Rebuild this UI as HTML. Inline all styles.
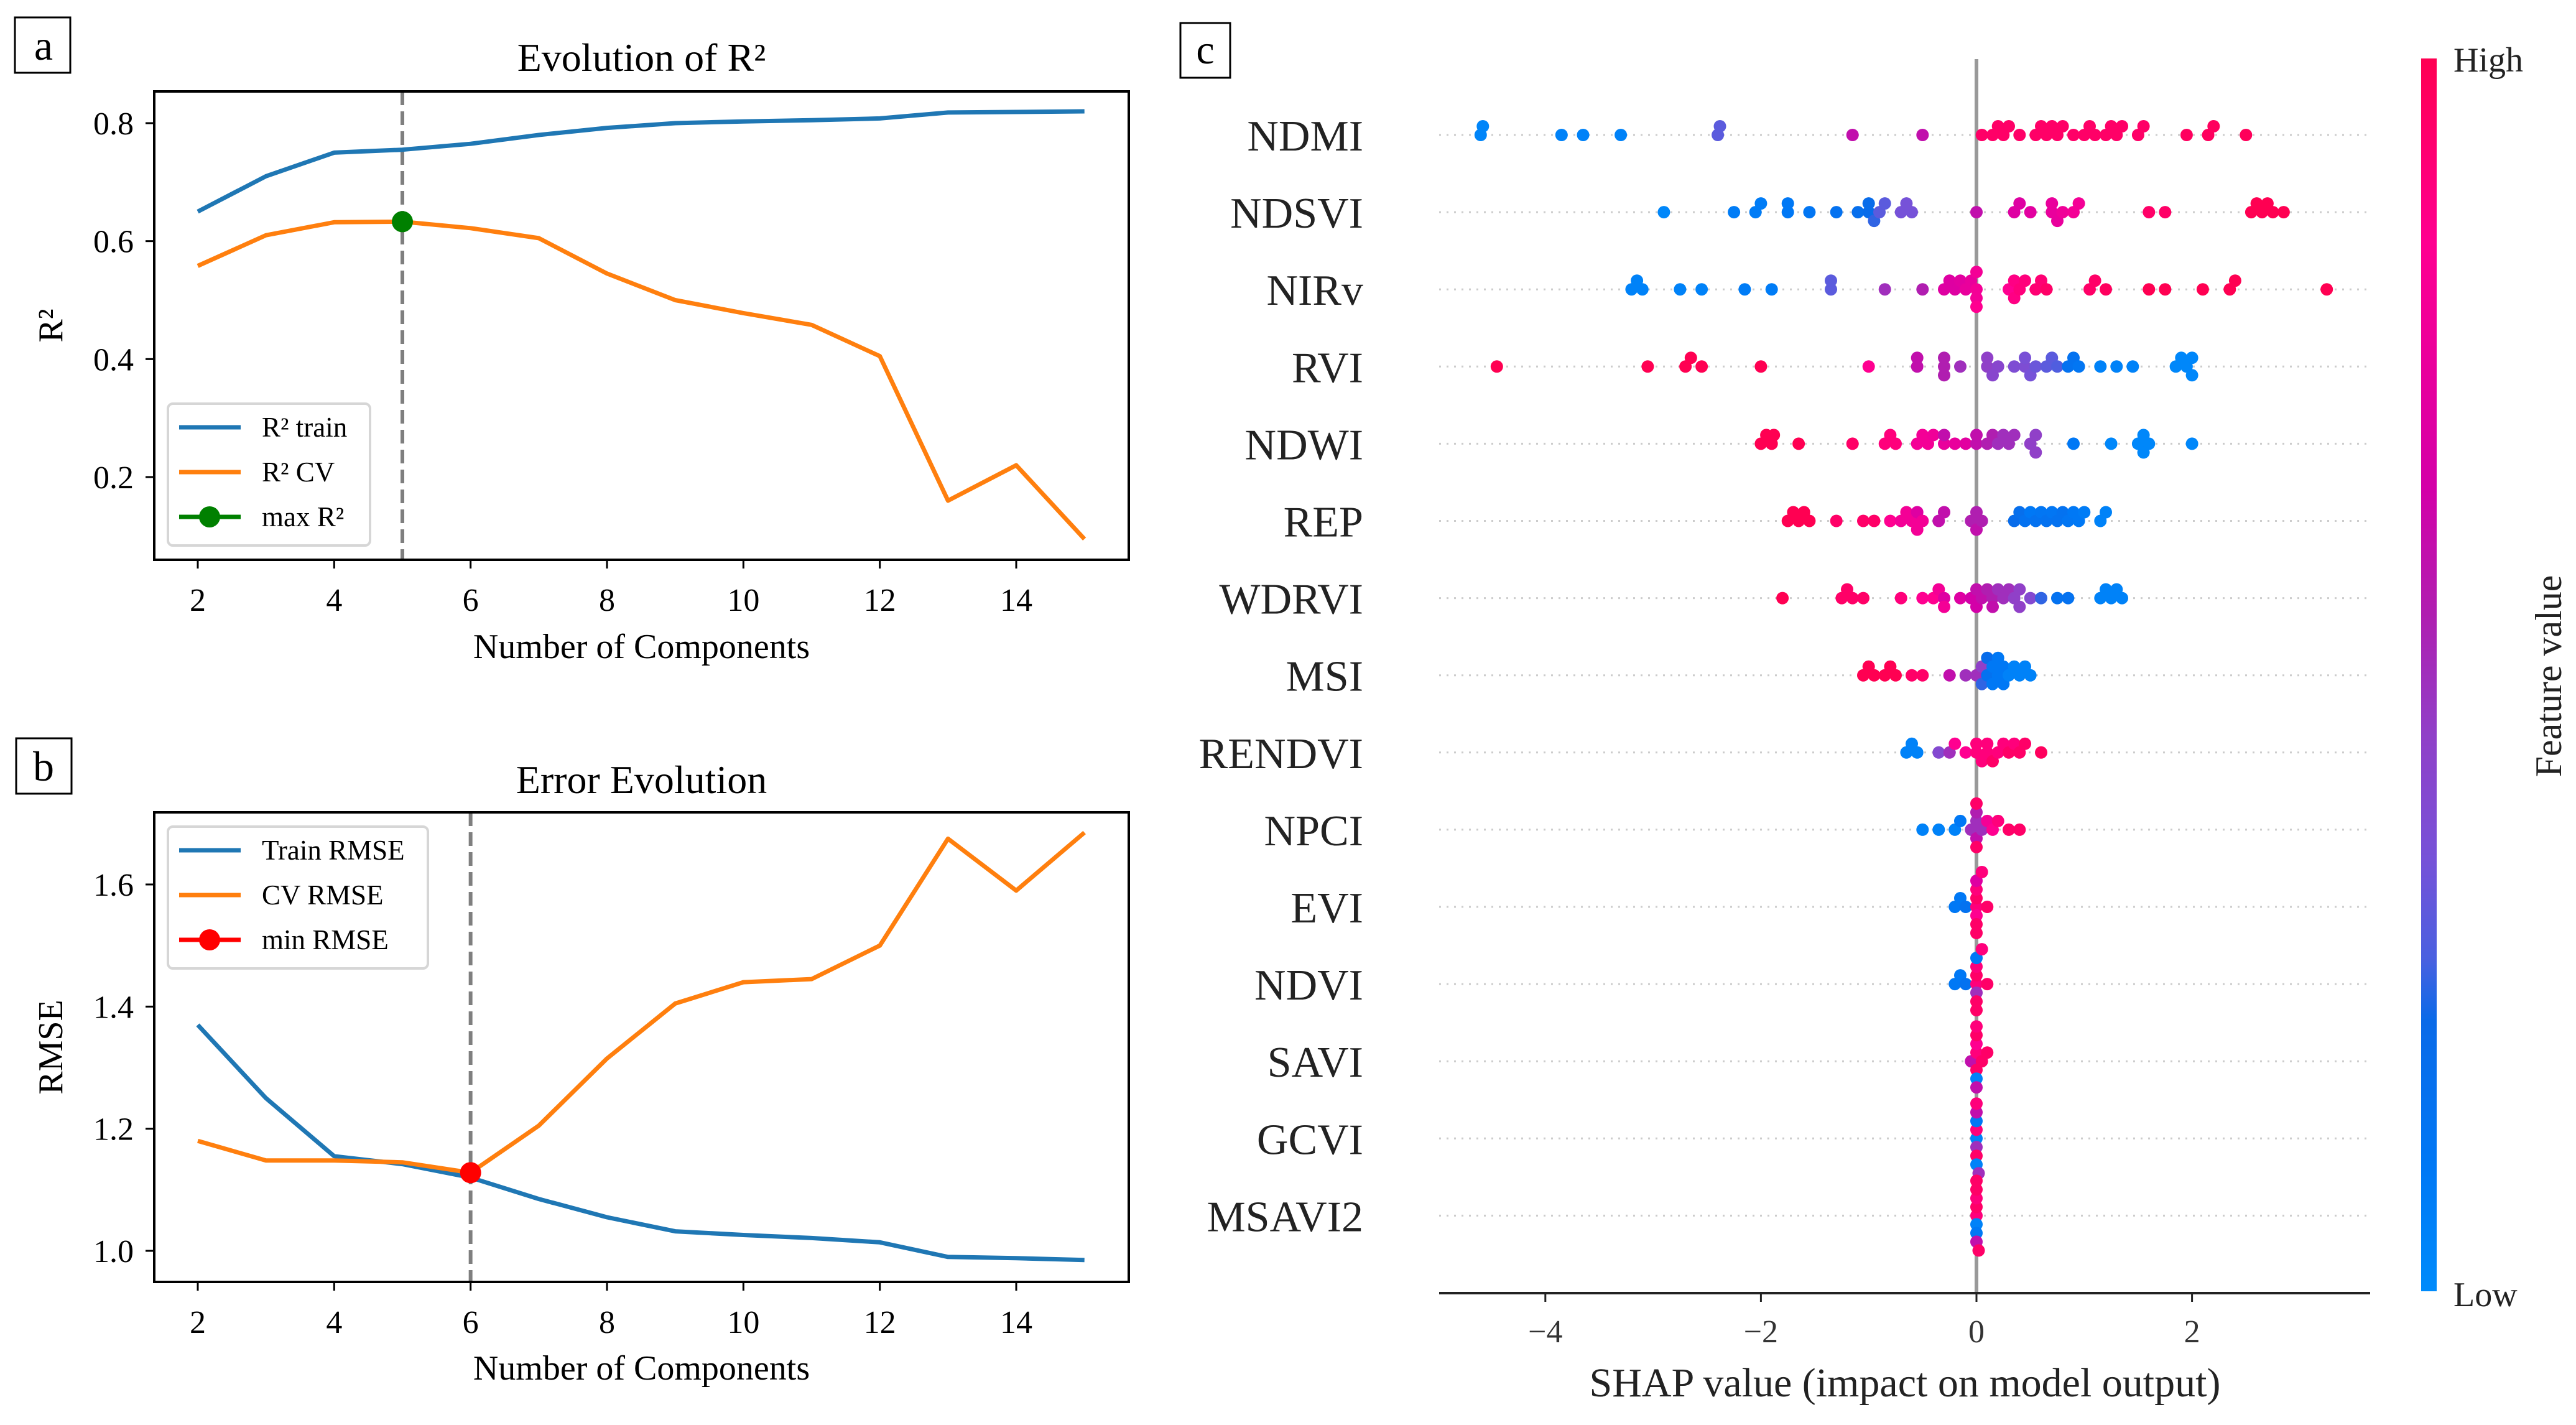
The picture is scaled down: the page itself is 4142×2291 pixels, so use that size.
<!DOCTYPE html>
<html><head><meta charset="utf-8">
<style>
html,body{margin:0;padding:0;background:#fff;}
svg{display:block;font-family:"Liberation Serif",serif;}
</style></head>
<body>
<svg id="fig" width="4142" height="2291" viewBox="0 0 4142 2291" xmlns="http://www.w3.org/2000/svg">
<defs>
<linearGradient id="cbgrad" x1="0" y1="1" x2="0" y2="0">
<stop offset="0" stop-color="#008bfb"/>
<stop offset="0.1" stop-color="#0078f5"/>
<stop offset="0.22" stop-color="#0a6ae8"/>
<stop offset="0.27" stop-color="#4a60e0"/>
<stop offset="0.35" stop-color="#7652d8"/>
<stop offset="0.45" stop-color="#9040c8"/>
<stop offset="0.55" stop-color="#b01eb0"/>
<stop offset="0.65" stop-color="#d300a8"/>
<stop offset="0.85" stop-color="#ff0090"/>
<stop offset="1" stop-color="#ff0052"/>
</linearGradient>
</defs>
</svg>
<script>
// ---- Panel a data ----
const compsA = [2,3,4,5,6,7,8,9,10,11,12,13,14,15];
const r2Train = [0.65,0.71,0.75,0.755,0.765,0.78,0.792,0.80,0.803,0.805,0.808,0.818,0.819,0.82];
const r2CV = [0.558,0.61,0.632,0.633,0.622,0.605,0.545,0.50,0.478,0.458,0.405,0.16,0.22,0.095];
const r2Ticks = [0.2,0.4,0.6,0.8];
const xTicks = [2,4,6,8,10,12,14];
const bestA = 5;
// ---- Panel b data ----
const rmseTrain = [1.37,1.25,1.155,1.142,1.12,1.085,1.055,1.032,1.026,1.021,1.014,0.99,0.988,0.985];
const rmseCV = [1.18,1.148,1.148,1.145,1.128,1.205,1.315,1.405,1.44,1.445,1.5,1.675,1.59,1.685];
const rmseTicks = [1.0,1.2,1.4,1.6];
const bestB = 6;
// ---- Panel c data ----
const features = ["NDMI","NDSVI","NIRv","RVI","NDWI","REP","WDRVI","MSI","RENDVI","NPCI","EVI","NDVI","SAVI","GCVI","MSAVI2"];
const shapTicks = [-4,-2,0,2];
// each entry: [shap value, normalized feature value]
const shapNDMI = [[-4.6,0.03],[-4.58,0.03],[-3.85,0.05],[-3.65,0.05],[-3.3,0.05],[-2.4,0.3],[-2.38,0.3],[-1.15,0.6],[-0.5,0.6],[0.05,0.95],[0.15,0.95],[0.2,0.95],[0.25,0.95],[0.3,0.95],[0.4,0.95],[0.55,0.95],[0.6,0.95],[0.65,0.95],[0.7,0.95],[0.75,0.95],[0.8,0.95],[0.9,0.95],[1.0,0.95],[1.05,0.95],[1.1,0.95],[1.2,0.95],[1.25,0.95],[1.3,0.95],[1.35,0.95],[1.5,0.95],[1.55,0.95],[1.95,0.97],[2.15,0.97],[2.2,0.97],[2.5,0.98]];
const shapNDSVI = [[-2.9,0.02],[-2.25,0.08],[-2.05,0.08],[-2.0,0.08],[-1.75,0.1],[-1.75,0.1],[-1.55,0.12],[-1.3,0.15],[-1.1,0.18],[-1.0,0.2],[-1.0,0.2],[-0.95,0.25],[-0.9,0.3],[-0.85,0.3],[-0.7,0.35],[-0.65,0.35],[-0.6,0.35],[0.0,0.6],[0.35,0.7],[0.4,0.7],[0.5,0.72],[0.7,0.75],[0.7,0.75],[0.75,0.75],[0.8,0.78],[0.9,0.8],[0.95,0.8],[1.6,0.95],[1.75,0.95],[2.55,1],[2.6,1],[2.65,1],[2.7,1],[2.75,1],[2.85,1]];
const shapNIRv = [[-3.2,0.05],[-3.15,0.05],[-3.1,0.05],[-2.75,0.05],[-2.55,0.05],[-2.15,0.08],[-1.9,0.08],[-1.35,0.3],[-1.35,0.3],[-0.85,0.5],[-0.5,0.55],[-0.3,0.7],[-0.25,0.7],[-0.2,0.7],[-0.15,0.72],[-0.1,0.75],[-0.05,0.75],[0,0.8],[0,0.8],[0,0.8],[0,0.85],[0.3,0.85],[0.35,0.88],[0.35,0.88],[0.4,0.9],[0.45,0.9],[0.55,0.92],[0.6,0.92],[0.65,0.95],[1.05,0.95],[1.1,0.95],[1.2,0.97],[1.6,1],[1.75,1],[2.1,1],[2.35,1],[2.4,1],[3.25,1]];
const shapRVI = [[-4.45,1],[-3.05,1],[-2.7,1],[-2.65,1],[-2.55,1],[-2.0,1],[-1.0,0.85],[-0.55,0.6],[-0.55,0.6],[-0.3,0.55],[-0.3,0.55],[-0.3,0.55],[-0.15,0.5],[0.1,0.45],[0.1,0.45],[0.15,0.42],[0.2,0.42],[0.35,0.38],[0.45,0.38],[0.45,0.36],[0.5,0.35],[0.55,0.33],[0.65,0.3],[0.7,0.3],[0.75,0.28],[0.85,0.15],[0.9,0.15],[0.95,0.12],[1.15,0.05],[1.3,0.05],[1.45,0.05],[1.85,0.02],[1.9,0.02],[1.95,0.02],[2.0,0.02],[2.0,0.02]];
const shapNDWI = [[-2.0,1],[-1.95,1],[-1.9,1],[-1.88,1],[-1.65,1],[-1.15,0.95],[-0.85,0.9],[-0.8,0.9],[-0.75,0.9],[-0.55,0.8],[-0.5,0.8],[-0.45,0.8],[-0.4,0.78],[-0.3,0.75],[-0.3,0.6],[-0.2,0.75],[-0.1,0.72],[0,0.6],[0,0.6],[0.1,0.55],[0.15,0.55],[0.2,0.5],[0.25,0.5],[0.3,0.5],[0.35,0.5],[0.5,0.45],[0.55,0.45],[0.55,0.45],[0.9,0.1],[1.25,0.02],[1.5,0.02],[1.55,0.02],[1.55,0.02],[1.6,0.02],[2.0,0.02]];
const shapREP = [[-1.75,1],[-1.7,1],[-1.65,1],[-1.6,1],[-1.55,1],[-1.3,0.95],[-1.05,0.95],[-0.95,0.95],[-0.8,0.85],[-0.7,0.8],[-0.65,0.8],[-0.6,0.8],[-0.55,0.7],[-0.55,0.8],[-0.5,0.8],[-0.35,0.6],[-0.3,0.6],[-0.05,0.55],[0,0.55],[0,0.6],[0.05,0.55],[0.35,0.2],[0.4,0.18],[0.45,0.15],[0.5,0.1],[0.55,0.15],[0.6,0.12],[0.65,0.15],[0.7,0.12],[0.75,0.15],[0.8,0.15],[0.85,0.12],[0.9,0.1],[0.95,0.1],[1.0,0.08],[1.15,0.05],[1.2,0.05]];
const shapWDRVI = [[-1.8,1],[-1.25,0.95],[-1.2,0.95],[-1.15,0.95],[-1.05,0.95],[-0.7,0.9],[-0.5,0.85],[-0.4,0.85],[-0.35,0.8],[-0.3,0.7],[-0.3,0.8],[-0.15,0.7],[-0.05,0.65],[0,0.6],[0,0.65],[0.05,0.6],[0.1,0.55],[0.15,0.55],[0.15,0.6],[0.2,0.5],[0.25,0.5],[0.3,0.5],[0.35,0.45],[0.4,0.45],[0.4,0.45],[0.5,0.4],[0.6,0.25],[0.75,0.15],[0.85,0.15],[1.15,0.05],[1.2,0.05],[1.25,0.05],[1.3,0.05],[1.35,0.05]];
const shapMSI = [[-1.05,1],[-1.0,1],[-0.95,1],[-0.85,1],[-0.8,1],[-0.75,1],[-0.6,0.95],[-0.5,0.95],[-0.25,0.6],[-0.1,0.5],[0,0.5],[0.05,0.45],[0.05,0.25],[0.1,0.15],[0.1,0.2],[0.15,0.1],[0.15,0.1],[0.2,0.1],[0.2,0.1],[0.25,0.1],[0.25,0.1],[0.3,0.05],[0.35,0.05],[0.4,0.05],[0.45,0.05],[0.5,0.05]];
const shapRENDVI = [[-0.65,0.05],[-0.6,0.05],[-0.55,0.05],[-0.35,0.4],[-0.25,0.5],[-0.2,0.85],[-0.1,0.85],[0,0.9],[0,0.9],[0.05,0.9],[0.1,0.9],[0.1,0.9],[0.15,0.95],[0.2,0.9],[0.25,0.9],[0.3,0.95],[0.35,0.9],[0.4,0.95],[0.45,0.95],[0.6,0.97]];
const shapNPCI = [[-0.5,0.05],[-0.35,0.05],[-0.2,0.05],[-0.15,0.1],[-0.05,0.5],[0,0.5],[0,0.6],[0,0.55],[0,0.95],[0,0.95],[0.05,0.5],[0.1,0.8],[0.15,0.85],[0.2,0.9],[0.3,0.95],[0.4,0.95]];
const shapEVI = [[-0.2,0.1],[-0.15,0.1],[-0.1,0.15],[0,0.9],[0,0.95],[0,0.85],[0,0.9],[0,0.95],[0,0.7],[0,0.95],[0.05,0.9],[0.1,0.95]];
const shapNDVI = [[-0.2,0.1],[-0.15,0.1],[-0.1,0.15],[0,0.9],[0,0.95],[0,0.5],[0,0.9],[0,0.95],[0,0.1],[0,0.95],[0.05,0.9],[0.1,0.95]];
const shapSAVI = [[-0.05,0.6],[0,0.9],[0,0.95],[0,0.85],[0,0.05],[0,0.95],[0,0.6],[0,0.9],[0.05,0.95],[0.1,0.95]];
const shapGCVI = [[0,0.05],[0,0.9],[0,0.5],[0,0.1],[0,0.95],[0,0.6],[0,0.05],[0,0.9],[0.02,0.5]];
const shapMSAVI2 = [[0,0.9],[0,0.95],[0,0.05],[0,0.9],[0,0.1],[0,0.95],[0,0.6],[0,0.95],[0.02,0.95]];
const shapRows = [shapNDMI,shapNDSVI,shapNIRv,shapRVI,shapNDWI,shapREP,shapWDRVI,shapMSI,shapRENDVI,shapNPCI,shapEVI,shapNDVI,shapSAVI,shapGCVI,shapMSAVI2];

const NS = "http://www.w3.org/2000/svg";
const svg = document.getElementById('fig');
function mk(tag, attrs, parent, text){
  const e = document.createElementNS(NS, tag);
  for (const k in attrs) e.setAttribute(k, attrs[k]);
  if (text !== undefined) e.textContent = text;
  (parent||svg).appendChild(e);
  return e;
}

function linePanel(cfg){
  const g = mk('g', {});
  
  
  const L=248, R=1815, T=cfg.top, B=cfg.bottom;
  const xs = v => 318 + (v-2)*(1634-318)/12;
  const ys = v => cfg.y0px + (v-cfg.y0)*cfg.scale;
  const lb = mk('rect', {x:cfg.boxY>100?26:24, y:cfg.boxY, width:89, height:89, fill:'none', stroke:'#000', 'stroke-width':3}, g);
  
  
  const lt = mk('text', {x:70, y:cfg.boxY+68, 'font-size':68, 'text-anchor':'middle'}, g, cfg.letter);
  
  
  const tt = mk('text', {x:(L+R)/2, y:cfg.titleY, 'font-size':64, 'text-anchor':'middle'}, g, cfg.title);
  
  
  xTicks.forEach(t=>{
    const x = xs(t);
    mk('line', {x1:x, x2:x, y1:B, y2:B+14, stroke:'#000', 'stroke-width':3}, g);
    const tl = mk('text', {x:x, y:B+82, 'font-size':52, 'text-anchor':'middle'}, g, String(t));
    
    
  });
  cfg.yTicks.forEach(t=>{
    const y = ys(t);
    mk('line', {x1:L-14, x2:L, y1:y, y2:y, stroke:'#000', 'stroke-width':3}, g);
    const tl = mk('text', {x:215, y:y+18, 'font-size':52, 'text-anchor':'end'}, g, t.toFixed(1));
    
    
  });
  const xl = mk('text', {x:(L+R)/2, y:cfg.xlabelY, 'font-size':56, 'text-anchor':'middle'}, g, 'Number of Components');
  
  
  const yl = mk('text', {x:0, y:0, 'font-size':56, 'text-anchor':'middle', transform:`translate(100,${(T+B)/2}) rotate(-90)`}, g, cfg.ylabel);
  
  
  const cid = 'clip'+cfg.letter;
  const cp = mk('clipPath', {id:cid}, g);
  mk('rect', {x:L, y:T, width:R-L, height:B-T}, cp);
  const pg = mk('g', {'clip-path':`url(#${cid})`}, g);
  const vx = xs(cfg.best);
  const vl = mk('line', {x1:vx, x2:vx, y1:T, y2:B, stroke:'#7f7f7f', 'stroke-width':6, 'stroke-dasharray':'22,10'}, pg);
  
  
  const mkPath = (vals, color, name) => {
    const d = vals.map((v,i)=>(i?'L':'M')+xs(compsA[i]).toFixed(1)+','+ys(v).toFixed(1)).join(' ');
    const p = mk('path', {d:d, fill:'none', stroke:color, 'stroke-width':7, 'stroke-linejoin':'round'}, pg);
    
    
  };
  mkPath(cfg.train, '#1f77b4', 'train-line');
  mkPath(cfg.cv, '#ff7f0e', 'cv-line');
  const bi = compsA.indexOf(cfg.best);
  const mkr = mk('ellipse', {cx:vx, cy:ys(cfg.cv[bi]), rx:17, ry:17, fill:cfg.markColor}, g);
  
  
  mk('rect', {x:L, y:T, width:R-L, height:B-T, fill:'none', stroke:'#000', 'stroke-width':4}, g);
  const lg = mk('g', {}, g);
  
  
  const lgb = cfg.legend;
  mk('rect', {x:270, y:lgb.y, width:lgb.w, height:lgb.h, rx:8, fill:'#fff', 'fill-opacity':0.8, stroke:'#d6d6d6', 'stroke-width':4}, lg);
  lgb.items.forEach((it,i)=>{
    const y = lgb.y + 38 + i*72;
    mk('line', {x1:288, x2:387, y1:y, y2:y, stroke:it.c, 'stroke-width':7}, lg);
    if (it.m) mk('ellipse', {cx:337, cy:y, rx:17, ry:17, fill:it.c}, lg);
    const et = mk('text', {x:421, y:y+15, 'font-size':45}, lg, it.t);
    
    
  });
}

linePanel({name:'panel-a-r2-chart', letter:'a', boxY:28, title:'Evolution of R²', titleY:114, top:147, bottom:900, y0:0.8, y0px:198, scale:-948.3, yTicks:r2Ticks, train:r2Train, cv:r2CV, best:bestA, markColor:'#008000', ylabel:'R²', xlabelY:1058,
  legend:{y:649, w:325, h:228, items:[{c:'#1f77b4',t:'R² train'},{c:'#ff7f0e',t:'R² CV'},{c:'#008000',t:'max R²',m:true}]}});
linePanel({name:'panel-b-rmse-chart', letter:'b', boxY:1187, title:'Error Evolution', titleY:1275, top:1306, bottom:2061, y0:1.0, y0px:2011, scale:-981.7, yTicks:rmseTicks, train:rmseTrain, cv:rmseCV, best:bestB, markColor:'#ff0000', ylabel:'RMSE', xlabelY:2218,
  legend:{y:1329, w:418, h:228, items:[{c:'#1f77b4',t:'Train RMSE'},{c:'#ff7f0e',t:'CV RMSE'},{c:'#ff0000',t:'min RMSE',m:true}]}});

// ---- Panel c ----
(function(){
  const g = mk('g', {});
  
  
  const xs = v => 3178 + v*173.3;
  const rowY = i => 217 + i*124.1;
  const lb = mk('rect', {x:1898, y:37, width:80, height:88, fill:'none', stroke:'#000', 'stroke-width':3}, g);
  
  
  const lt = mk('text', {x:1938, y:102, 'font-size':66, 'text-anchor':'middle'}, g, 'c');
  
  
  features.forEach((f,i)=>{
    const y = rowY(i);
    mk('line', {x1:2314, x2:3811, y1:y, y2:y, stroke:'#cccccc', 'stroke-width':3, 'stroke-dasharray':'3,9'}, g);
    const t = mk('text', {x:2192, y:y+25, 'font-size':70, 'text-anchor':'end', fill:'#222'}, g, f);
    
    
  });
  const zl = mk('line', {x1:xs(0), x2:xs(0), y1:95, y2:2079, stroke:'#999', 'stroke-width':6}, g);
  
  
  const stops = [[0,[0,139,251]],[0.1,[0,120,245]],[0.22,[10,106,232]],[0.27,[74,96,224]],[0.35,[118,82,216]],[0.45,[144,64,200]],[0.55,[176,30,176]],[0.65,[211,0,168]],[0.85,[255,0,144]],[1,[255,0,82]]];
  const col = v => { for(let k=1;k<stops.length;k++){ if(v<=stops[k][0]){ const a=stops[k-1],b=stops[k]; const t=(v-a[0])/(b[0]-a[0]); return 'rgb('+a[1].map((c,j)=>Math.round(c+(b[1][j]-c)*t)).join(',')+')'; } } return 'rgb(255,0,82)'; };
  const r = 10, dy = 14;
  shapRows.forEach((row,i)=>{
    const y0 = rowY(i);
    const placed = [];
    const sorted = row.map(p=>p).sort((a,b)=>a[0]-b[0]);
    sorted.forEach(p=>{
      const x = xs(p[0]);
      let off = 0;
      for (let k=0;k<40;k++){
        off = (k===0)?0:((k%2)?-1:1)*Math.ceil(k/2)*dy;
        if (!placed.some(q=>Math.abs(q[0]-x)<r+1 && Math.abs(q[1]-off)<dy-1)) break;
      }
      placed.push([x,off]);
      const c = mk('circle', {cx:x.toFixed(1), cy:(y0+off).toFixed(1), r:r, fill:col(p[1])}, g);
      
      
    });
  });
  mk('line', {x1:2314, x2:3811, y1:2079, y2:2079, stroke:'#222', 'stroke-width':4}, g);
  shapTicks.forEach(t=>{
    const x = xs(t);
    mk('line', {x1:x, x2:x, y1:2079, y2:2093, stroke:'#222', 'stroke-width':3}, g);
    const tl = mk('text', {x:x, y:2158, 'font-size':52, 'text-anchor':'middle', fill:'#333'}, g, t<0?'\u2212'+Math.abs(t):String(t));
    
    
  });
  const xl = mk('text', {x:3063, y:2245, 'font-size':66, 'text-anchor':'middle', fill:'#222'}, g, 'SHAP value (impact on model output)');
  
  
  const cb = mk('rect', {x:3893, y:94, width:25, height:1982, fill:'url(#cbgrad)'}, g);
  
  
  const hi = mk('text', {x:3945, y:115, 'font-size':56, fill:'#222'}, g, 'High');
  
  
  const lo = mk('text', {x:3945, y:2100, 'font-size':56, fill:'#222'}, g, 'Low');
  
  
  const fv = mk('text', {x:0, y:0, 'font-size':60, 'text-anchor':'middle', fill:'#222', transform:'translate(4118,1087) rotate(-90)'}, g, 'Feature value');
  
  
})();
</script>
</body></html>
